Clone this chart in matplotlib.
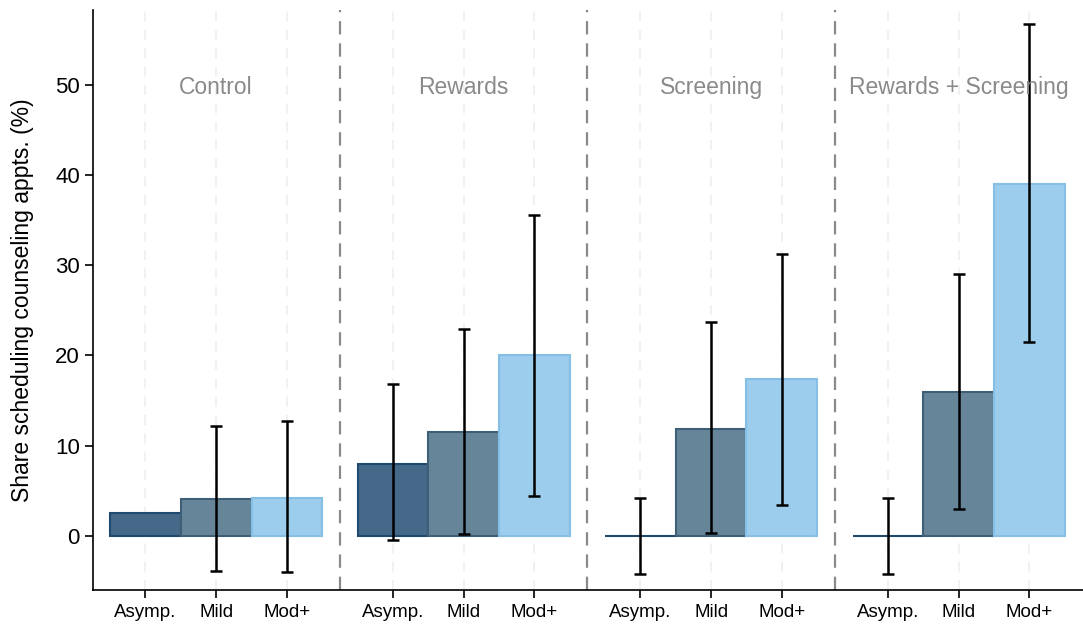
import numpy as np
import matplotlib.pyplot as plt

plt.rcParams['font.family'] = ['Liberation Sans', 'DejaVu Sans']

groups = ['Control', 'Rewards', 'Screening', 'Rewards + Screening']
severity = ['Asymp.', 'Mild', 'Mod+']

# share (%) by group, one list per severity level
asymp = [2.5, 8.0, 0.0, 0.0]
mild = [4.1, 11.5, 11.9, 16.0]
modplus = [4.2, 20.0, 17.4, 39.0]

# confidence interval bounds (None = no bar drawn)
asymp_lo = [None, -0.5, -4.2, -4.2]
asymp_hi = [None, 16.8, 4.2, 4.2]
mild_lo = [-3.9, 0.2, 0.3, 3.0]
mild_hi = [12.2, 22.9, 23.7, 29.0]
modplus_lo = [-4.0, 4.4, 3.4, 21.5]
modplus_hi = [12.7, 35.6, 31.3, 56.7]

fills = ['#46698a', '#668599', '#9dcdec']
edges = ['#1f4a70', '#3f5f77', '#85bfe6']

series = [(asymp, asymp_lo, asymp_hi),
          (mild, mild_lo, mild_hi),
          (modplus, modplus_lo, modplus_hi)]

fig, ax = plt.subplots(figsize=(10.83, 6.25), dpi=100)
fig.subplots_adjust(left=0.086, right=1.0, bottom=0.056, top=0.984)

step = 3.5
xticks = []
xlabels = []
for g in range(len(groups)):
    for i, (vals, lo, hi) in enumerate(series):
        x = g * step + i
        xticks.append(x)
        xlabels.append(severity[i])
        ax.axvline(x, color='#efefef', lw=1.2, ls=(0, (6, 5)), zorder=0)
        ax.bar(x, vals[g], width=1.0, color=fills[i], edgecolor=edges[i],
               lw=1.5, zorder=2)
        if lo[g] is not None:
            ax.errorbar(x, vals[g], yerr=[[vals[g] - lo[g]], [hi[g] - vals[g]]],
                        fmt='none', ecolor='black', elinewidth=1.8,
                        capsize=4, capthick=1.8, zorder=3)
    ax.text(g * step + 1, 49.7, groups[g], ha='center', va='center',
            fontsize=16.5, color='#8a8a8a', zorder=4)
    if g > 0:
        ax.axvline(g * step - 0.75, color='#8a8a8a', lw=1.6,
                   ls=(0, (6, 4)), zorder=1)

ax.set_xlim(-0.74, 13.26)
ax.set_ylim(-6, 58.3)
ax.set_yticks(np.arange(0, 51, 10))
ax.set_xticks(xticks)
ax.set_xticklabels(xlabels, fontsize=13.5)
ax.tick_params(axis='y', labelsize=16, length=6, width=1.2)
ax.tick_params(axis='x', length=6, width=1.2, pad=4)
ax.set_ylabel('Share scheduling counseling appts. (%)', fontsize=16.5,
              labelpad=15)

for side in ['top', 'right']:
    ax.spines[side].set_visible(False)
for side in ['left', 'bottom']:
    ax.spines[side].set_linewidth(1.2)

fig.savefig('out.png', dpi=100)
